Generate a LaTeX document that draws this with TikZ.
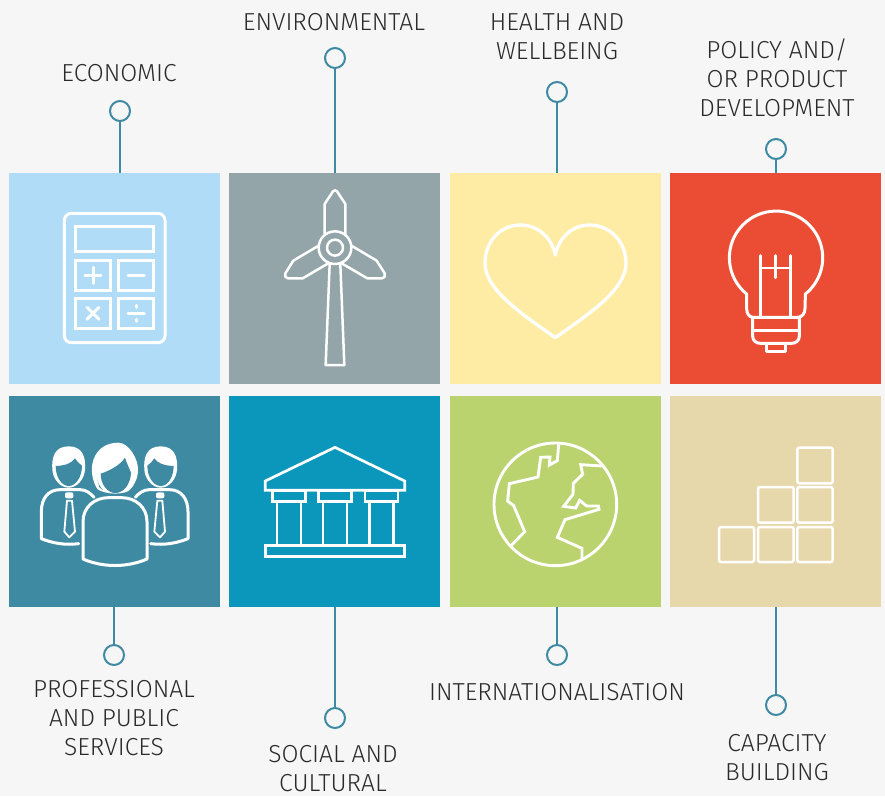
\documentclass[tikz,border=0pt]{standalone}
\usepackage{fontspec}
\setmainfont{Fira Sans Light}
\definecolor{bgc}{HTML}{F6F6F6}
\definecolor{tealc}{HTML}{3F8AA3}
\definecolor{txt}{HTML}{2A2A2A}
\definecolor{cblue}{HTML}{B0DCF7}
\definecolor{cgray}{HTML}{93A5A9}
\definecolor{cyellow}{HTML}{FFECA4}
\definecolor{cred}{HTML}{EB4C34}
\definecolor{ccyan}{HTML}{0B97BB}
\definecolor{cgreen}{HTML}{BAD36E}
\definecolor{ctan}{HTML}{E7D8AC}
\tikzset{
  tile/.style={minimum size=211pt,inner sep=0pt,outer sep=0pt,fill=#1},
  dot/.style={circle,draw=tealc,fill=bgc,line width=2pt,minimum size=20pt,inner sep=0pt,outer sep=0pt},
  conn/.style={draw=tealc,line width=2pt},
  lab/.style={text=txt,align=center,inner sep=0pt,font=\fontsize{24.6}{29}\selectfont},
  icon/.style={draw=white,line width=3pt,line join=round,line cap=round},
  zoomed/.style 2 args={shift={(#1,#2)},x=0.33333pt,y=-0.33333pt}
}
\begin{document}
\begin{tikzpicture}[x=1pt,y=-1pt]
\useasboundingbox (0,0) rectangle (885,796);
\fill[bgc] (0,0) rectangle (885,796);
% tiles
\node[tile=cblue]   (t1) at (114.5,278.5) {};
\node[tile=cgray]   (t2) at (334.5,278.5) {};
\node[tile=cyellow] (t3) at (555.5,278.5) {};
\node[tile=cred]    (t4) at (775.5,278.5) {};
\node[tile=tealc]   (t5) at (114.5,501.5) {};
\node[tile=ccyan]   (t6) at (334.5,501.5) {};
\node[tile=cgreen]  (t7) at (555.5,501.5) {};
\node[tile=ctan]    (t8) at (775.5,501.5) {};
% dots
\node[dot] (d1) at (120,111) {};
\node[dot] (d2) at (335,58) {};
\node[dot] (d3) at (557,92) {};
\node[dot] (d4) at (776,149) {};
\node[dot] (d5) at (114,655) {};
\node[dot] (d6) at (335,718) {};
\node[dot] (d7) at (557,655) {};
\node[dot] (d8) at (776,705) {};
% connectors
\draw[conn] (d1.south) -- (d1.south |- t1.north);
\draw[conn] (d2.south) -- (d2.south |- t2.north);
\draw[conn] (d3.south) -- (d3.south |- t3.north);
\draw[conn] (d4.south) -- (d4.south |- t4.north);
\draw[conn] (d5.north) -- (d5.north |- t5.south);
\draw[conn] (d6.north) -- (d6.north |- t6.south);
\draw[conn] (d7.north) -- (d7.north |- t7.south);
\draw[conn] (d8.north) -- (d8.north |- t8.south);
% labels
\node[lab] (l1) at (119,73) {ECONOMIC};
\node[lab] (l2) at (334,22) {ENVIRONMENTAL};
\node[lab] (l3) at (557,37) {HEALTH AND\\WELLBEING};
\node[lab] (l4) at (777,77.5) {POLICY AND/\\OR PRODUCT\\DEVELOPMENT};
\node[lab] (l5) at (114,718.5) {PROFESSIONAL\\AND PUBLIC\\SERVICES};
\node[lab] (l6) at (333,769) {SOCIAL AND\\CULTURAL};
\node[lab] (l7) at (557,692) {INTERNATIONALISATION};
\node[lab] (l8) at (777,758) {CAPACITY\\BUILDING};
% calculator
\begin{scope}[zoomed={10}{170}]
\draw[icon,rounded corners=7pt] (163,130) rectangle (465,518);
\draw[icon,line cap=butt,line join=miter] (197,170) rectangle (430,243);
\draw[icon,line cap=butt,line join=miter] (197,270) rectangle (301,361);
\draw[icon,line cap=butt,line join=miter] (326,270) rectangle (430,361);
\draw[icon,line cap=butt,line join=miter] (197,384) rectangle (301,474);
\draw[icon,line cap=butt,line join=miter] (326,384) rectangle (430,474);
\draw[icon] (225,316) -- (273,316) (249,292) -- (249,340);
\draw[icon] (354,316) -- (403,316);
\draw[icon] (231,412) -- (267,448) (267,412) -- (231,448);
\draw[icon] (354,430) -- (403,430) (378,406) -- (378,412) (378,448) -- (378,454);
\end{scope}
% wind turbine
\begin{scope}[zoomed={230}{170}]
\draw[icon,line width=2.5pt] (284,192) -- (284,102) -- (309,64) .. controls (312,60) and (318,60) .. (321,64) -- (346,102) -- (346,192);
\draw[icon,line width=2.5pt] (366,228) -- (440,272) -- (464,310) .. controls (467,318) and (464,325) .. (456,325) -- (412,325) -- (335,280);
\draw[icon,line width=2.5pt] (264,228) -- (190,272) -- (166,310) .. controls (163,318) and (166,325) .. (174,325) -- (218,325) -- (295,280);
\draw[icon,line width=2.5pt] (299,283) -- (287,585) -- (343,585) -- (331,283);
\draw[icon,line width=2.5pt] (315,233) circle[radius=49];
\draw[icon,line width=2.5pt] (315,233) circle[radius=24];
\end{scope}
% heart
\begin{scope}[zoomed={450}{170}]
\draw[icon,line width=3.3pt] (316,255) .. controls (305,200) and (260,165) .. (212,165) .. controls (150,165) and (105,215) .. (105,280) .. controls (105,360) and (220,435) .. (316,503) .. controls (412,435) and (528,360) .. (528,280) .. controls (528,215) and (480,165) .. (418,165) .. controls (370,165) and (327,200) .. (316,255);
\end{scope}
% bulb
\begin{scope}[zoomed={670}{170}]
\draw[icon,line width=3pt] (230,372) arc[start angle=129,end angle=411,radius=140] -- (405,415) .. controls (405,432) and (395,442) .. (382,442) -- (250,442) .. controls (238,442) and (230,432) .. (230,415) -- cycle;
\draw[icon,line width=3pt] (272,257) -- (272,440) (362,257) -- (362,440) (317,257) -- (317,323);
\draw[icon,line width=1.8pt] (272,294) -- (362,294);
\draw[icon,line width=3pt] (248,442) -- (248,498) .. controls (248,512) and (258,520) .. (272,520) -- (364,520) .. controls (378,520) and (388,512) .. (388,498) -- (388,442);
\draw[icon,line width=3pt] (248,480) -- (388,480);
\draw[icon,line width=3pt] (290,520) -- (290,545) -- (347,545) -- (347,520);
\end{scope}
% people
\begin{scope}[zoomed={10}{395}]
\foreach \m/\o in {1/0,-1/628}{
\begin{scope}[xshift=\o*0.33333pt,xscale=\m]
\draw[icon] (206,446) .. controls (165,451) and (130,445) .. (94,431) -- (94,350) .. controls (94,310) and (115,284) .. (150,284) -- (210,284) .. controls (228,284) and (242,295) .. (252,307);
\fill[white] (127,225) .. controls (124,185) and (135,154) .. (176,154) .. controls (217,154) and (228,185) .. (225,225) .. controls (222,255) and (200,278) .. (176,278) .. controls (152,278) and (130,255) .. (127,225) -- cycle;
\fill[tealc] (137,213) .. controls (165,212) and (185,205) .. (195,190) .. controls (200,200) and (208,205) .. (216,212) .. controls (216,245) and (198,273) .. (176,273) .. controls (154,273) and (137,245) .. (137,213) -- cycle;
\fill[white,rounded corners=2pt] (165,292) rectangle (190,310);
\draw[icon,line width=1.8pt] (171,317) -- (186,317) -- (195,410) -- (178,427) -- (163,410) -- cycle;
\end{scope}}
\draw[icon] (219,492) -- (219,380) .. controls (219,335) and (255,308) .. (295,308) -- (335,308) .. controls (375,308) and (411,335) .. (411,380) -- (411,492) .. controls (350,518) and (280,518) .. (219,492);
\fill[white] (262,282) .. controls (248,260) and (240,225) .. (250,195) .. controls (262,160) and (290,143) .. (325,143) .. controls (355,143) and (385,190) .. (384,225) .. controls (384,250) and (372,272) .. (360,284) .. controls (345,300) and (285,300) .. (262,282) -- cycle;
\fill[tealc] (262,250) .. controls (264,265) and (270,275) .. (278,285) -- (268,277) -- cycle;
\fill[tealc] (272,236) .. controls (305,225) and (332,208) .. (345,188) .. controls (350,205) and (358,220) .. (363,233) .. controls (362,268) and (340,294) .. (316,294) .. controls (292,294) and (272,268) .. (272,236) -- cycle;
\end{scope}
% temple
\begin{scope}[zoomed={230}{395}]
\draw[icon,line width=2.7pt,line join=miter] (106,286) -- (106,258) -- (315,157) -- (524,258) -- (524,286) -- cycle;
\draw[icon,line width=2.7pt,line join=miter] (127,288) rectangle (226,320);
\draw[icon,line width=2.7pt,line join=miter] (266,288) rectangle (365,320);
\draw[icon,line width=2.7pt,line join=miter] (405,288) rectangle (504,320);
\draw[icon,line width=2.7pt,line cap=butt] (141,320) -- (141,452) (213,320) -- (213,452) (279,320) -- (279,452) (351,320) -- (351,452) (419,320) -- (419,452) (491,320) -- (491,452);
\draw[icon,line width=2.7pt,line join=miter] (106,452) rectangle (524,484);
\end{scope}
% globe
\begin{scope}[zoomed={450}{395}]
\draw[icon,line width=2.9pt] (316,328) circle[radius=184];
\draw[icon,line width=2.9pt,line cap=butt,line join=miter] (326,148) -- (322,197) -- (298,210) -- (300,186) -- (272,187) -- (264,246) -- (178,266) -- (173,318) -- (191,332) -- (224,410) -- (183,452);
\draw[icon,line width=2.9pt,line cap=butt,line join=miter] (457,213) -- (392,209) -- (398,238) -- (370,265) -- (369,298) -- (341,334) -- (377,339) -- (389,316) -- (410,333) -- (445,333) -- (447,343) -- (345,374) -- (322,427) -- (396,460) -- (396,495);
\end{scope}
% blocks
\begin{scope}[zoomed={670}{395}]
\foreach \xa/\xb/\ya/\yb in {382/488/158/265, 264/371/276/383, 382/488/276/383, 147/252/396/501, 264/371/396/501, 382/488/396/501}
  \draw[icon,line width=2.5pt,rounded corners=2pt] (\xa,\ya) rectangle (\xb,\yb);
\end{scope}
\end{tikzpicture}
\end{document}
